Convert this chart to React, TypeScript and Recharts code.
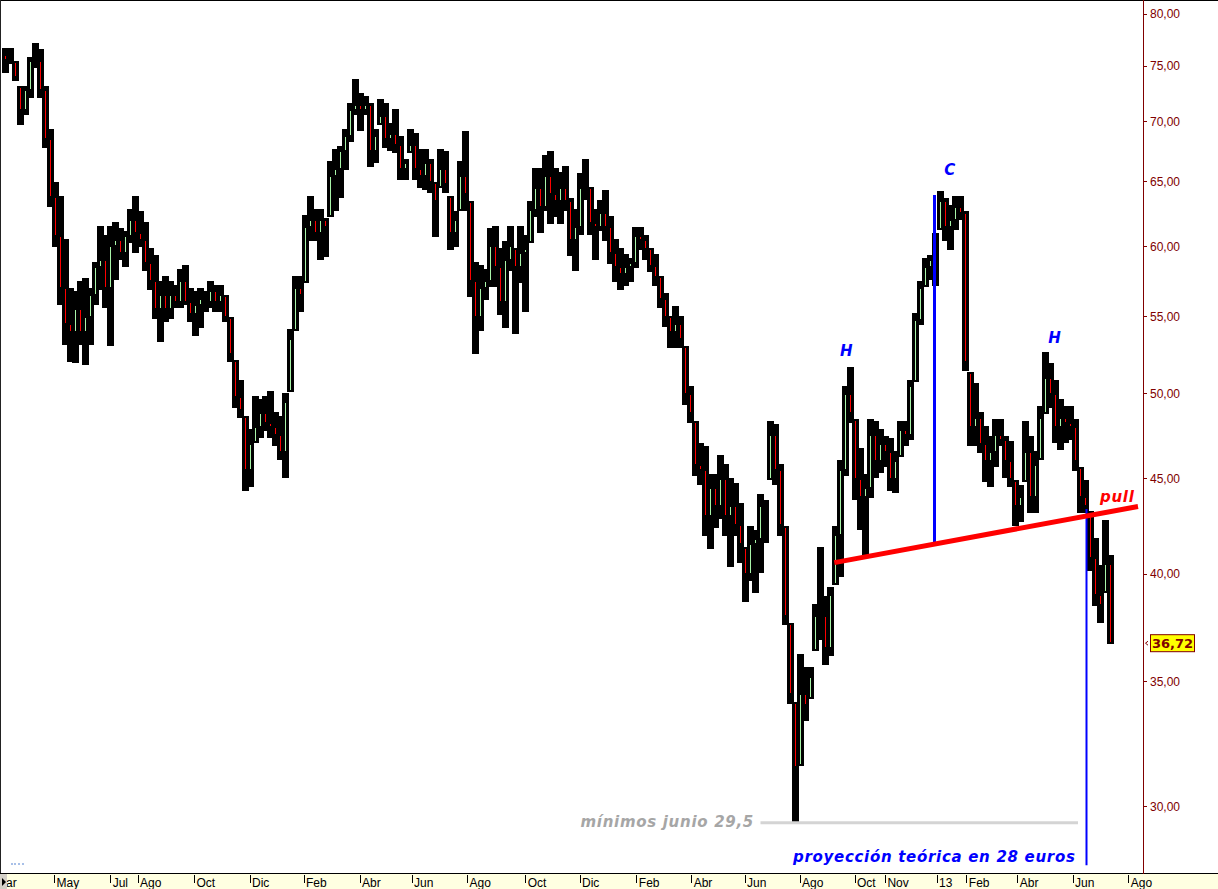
import React from 'react';
import { ComposedChart, Bar, XAxis, YAxis, ReferenceLine, ReferenceDot } from 'recharts';

// ---- price data (one candle per ~4 trading days) ----
const highs = [
  76.6, 76.6, 75.4, 73.1, 73.1, 75.8, 77.1, 76.5, 73.1, 69.3,
  64.9, 63.8, 60.5, 56.9, 56.7, 57.4, 57.6, 56.9, 58.8, 61.5,
  60.8, 61.5, 61.8, 61.3, 61.1, 62.8, 63.8, 62.6, 61.8, 59.8,
  59.3, 57.4, 57.8, 57.4, 57.1, 58.3, 58.6, 56.9, 56.7, 56.9,
  56.7, 57.4, 57.1, 57.1, 56.4, 54.9, 52.1, 50.8, 48.6, 47.8,
  49.8, 49.6, 49.8, 50.1, 48.8, 48.6, 50.0, 54.1, 57.8, 57.8,
  62.3, 63.8, 62.8, 62.8, 62.1, 66.6, 67.6, 67.9, 69.3, 71.6,
  73.7, 72.5, 72.2, 71.6, 69.3, 71.9, 71.6, 69.8, 71.0, 68.7,
  66.8, 69.3, 69.0, 67.6, 67.6, 66.8, 64.9, 67.6, 67.4, 63.8,
  62.6, 66.6, 69.1, 63.4, 58.8, 58.6, 58.3, 61.3, 61.5, 59.8,
  60.3, 61.5, 59.8, 61.5, 60.8, 63.4, 66.0, 66.0, 67.1, 67.4,
  66.0, 65.7, 66.2, 63.6, 62.8, 65.6, 66.8, 64.5, 62.8, 63.5,
  64.3, 62.2, 60.5, 59.8, 59.4, 59.1, 61.4, 61.4, 60.8, 59.8,
  59.4, 57.8, 56.6, 55.0, 55.7, 55.0, 53.0, 50.4, 48.3, 47.0,
  46.8, 45.2, 45.2, 46.3, 45.8, 45.0, 44.7, 43.6, 41.3, 42.4,
  42.2, 44.1, 43.8, 48.3, 48.1, 45.8, 42.4, 37.6, 34.1, 36.2,
  35.6, 35.6, 38.5, 41.3, 38.9, 39.3, 42.4, 46.0, 50.4, 51.6,
  48.4, 46.7, 45.2, 48.4, 48.3, 47.8, 47.4, 47.3, 46.5, 48.3,
  48.3, 50.8, 55.2, 57.4, 59.1, 59.3, 60.9, 64.2, 63.6, 63.1,
  63.8, 63.8, 62.6, 51.3, 50.6, 48.8, 48.0, 47.4, 48.4, 48.4,
  47.4, 47.1, 44.9, 44.6, 48.3, 47.4, 46.5, 49.2, 52.6, 51.9,
  50.8, 49.6, 49.2, 49.2, 48.4, 45.6, 44.9, 43.2, 41.8, 40.4,
  42.7, 40.9,
];
const lows = [
  74.5, 75.3, 73.7, 69.8, 70.7, 72.2, 74.9, 72.2, 67.9, 63.1,
  60.0, 55.9, 53.2, 52.1, 52.0, 53.2, 51.9, 53.2, 55.9, 56.9,
  55.7, 53.1, 57.6, 59.1, 58.6, 60.3, 59.6, 60.0, 58.3, 56.9,
  54.9, 53.4, 54.7, 54.9, 55.7, 55.7, 55.9, 54.7, 53.8, 54.3,
  55.4, 55.7, 55.4, 55.4, 54.7, 52.1, 49.2, 48.6, 44.4, 44.6,
  47.1, 47.4, 47.8, 47.4, 46.9, 46.1, 45.1, 50.2, 54.1, 55.4,
  57.4, 60.5, 60.5, 59.1, 59.3, 62.3, 62.8, 63.8, 66.0, 68.4,
  70.7, 69.3, 70.7, 66.3, 66.6, 69.8, 67.9, 67.6, 67.4, 65.2,
  65.2, 67.4, 65.2, 64.6, 64.4, 64.2, 60.8, 64.6, 64.2, 59.8,
  60.0, 62.8, 62.8, 56.4, 52.6, 54.1, 56.2, 57.1, 57.1, 55.2,
  54.3, 58.3, 53.9, 57.4, 55.4, 60.3, 62.3, 61.1, 62.8, 61.8,
  62.3, 61.8, 62.8, 59.4, 58.3, 60.9, 63.6, 60.9, 59.1, 61.2,
  60.5, 58.8, 57.5, 56.9, 57.2, 57.5, 58.5, 59.8, 59.1, 58.2,
  57.2, 55.7, 54.4, 53.0, 53.0, 53.0, 49.4, 48.3, 45.2, 44.7,
  42.0, 41.3, 42.4, 42.9, 42.0, 40.4, 42.0, 40.6, 38.7, 39.7,
  39.1, 40.1, 41.6, 45.0, 44.7, 42.0, 37.6, 34.1, 29.4, 31.6,
  33.4, 34.3, 36.4, 36.9, 35.8, 36.2, 39.5, 39.9, 45.2, 48.3,
  43.9, 42.3, 41.0, 44.0, 45.1, 45.4, 45.7, 44.4, 44.3, 46.3,
  46.9, 47.3, 50.8, 54.5, 57.1, 57.6, 57.2, 61.3, 60.5, 59.8,
  61.3, 62.1, 51.5, 46.9, 46.9, 46.5, 44.9, 44.6, 45.7, 46.9,
  45.1, 44.6, 42.5, 42.7, 44.9, 43.2, 43.2, 46.1, 48.8, 49.2,
  47.1, 46.7, 47.1, 47.3, 45.5, 43.2, 43.2, 40.2, 38.5, 37.7,
  39.1, 36.72,
];
const closes = [
  75.6, 75.5, 74.0, 71.0, 72.8, 75.5, 75.5, 72.8, 68.5, 63.8,
  60.8, 57.0, 54.5, 54.0, 55.5, 54.0, 55.0, 56.5, 58.5, 59.0,
  57.0, 60.0, 60.5, 59.5, 60.8, 62.0, 61.0, 60.5, 58.8, 57.5,
  55.5, 56.5, 55.5, 56.5, 56.0, 57.5, 56.0, 55.2, 55.8, 56.2,
  56.0, 56.8, 56.0, 56.5, 55.0, 52.5, 49.8, 49.0, 45.5, 47.0,
  48.0, 48.8, 48.2, 48.0, 47.5, 46.5, 49.5, 53.5, 57.0, 56.5,
  61.5, 62.0, 61.0, 62.0, 61.5, 65.5, 66.0, 67.5, 68.8, 71.0,
  71.5, 71.0, 71.5, 67.5, 68.8, 70.5, 68.5, 69.0, 68.0, 66.0,
  66.5, 68.0, 66.0, 65.5, 66.5, 65.0, 63.5, 66.0, 64.8, 61.0,
  62.0, 65.5, 64.0, 57.5, 55.0, 57.0, 57.5, 60.0, 58.5, 56.0,
  59.0, 60.0, 58.5, 59.5, 59.8, 62.8, 64.5, 63.0, 65.5, 64.0,
  63.5, 64.5, 63.5, 60.5, 61.5, 64.5, 64.5, 61.8, 61.5, 62.5,
  61.5, 59.5, 58.5, 58.0, 58.5, 58.8, 60.8, 60.5, 59.8, 58.6,
  57.8, 56.2, 55.0, 54.0, 54.5, 53.5, 50.0, 48.8, 45.8, 45.5,
  43.0, 44.5, 43.5, 45.0, 43.0, 43.5, 42.5, 41.5, 40.0, 41.5,
  41.8, 43.5, 43.5, 47.5, 45.5, 42.5, 38.0, 34.5, 31.5, 34.5,
  34.0, 35.2, 38.0, 38.0, 36.5, 39.0, 42.0, 45.5, 50.0, 48.8,
  45.0, 44.0, 44.5, 47.5, 46.0, 47.0, 46.5, 45.0, 46.0, 47.8,
  47.5, 50.5, 54.8, 57.0, 58.5, 59.0, 60.5, 63.5, 61.5, 62.0,
  63.0, 62.5, 52.0, 48.0, 48.5, 47.0, 46.0, 46.5, 47.5, 47.2,
  46.0, 45.0, 43.5, 44.0, 46.5, 44.0, 45.8, 48.5, 51.0, 50.0,
  48.0, 48.5, 48.2, 48.0, 46.0, 44.0, 43.5, 40.8, 39.0, 38.5,
  40.5, 36.72,
];
const firstOpen = 76.0;
const lastPrice = 36.72;

// ---- axes ----
const monthTicks = [
  -0.6, 9.9, 21.14, 26.6, 37.9, 49.0, 59.8, 71.0, 81.4, 92.52, 104.14, 115.0,
  126.36, 137.34, 148.0, 159.0, 170.0, 176.08, 186.4, 192.36, 202.56, 213.6, 224.76,
];
const monthLabels = [
  'Mar', 'May', 'Jul', 'Ago', 'Oct', 'Dic', 'Feb', 'Abr', 'Jun', 'Ago', 'Oct', 'Dic',
  'Feb', 'Abr', 'Jun', 'Ago', 'Oct', 'Nov', '13', 'Feb', 'Abr', 'Jun', 'Ago',
];
const priceTicks = [30, 35, 40, 45, 50, 55, 60, 65, 70, 75, 80];
const xDomain = [-0.6, 227.6];
const yDomain = [27.63, 81.4];

// ---- annotations (data coordinates) ----
const neckline = [{ x: 165.86, y: 40.57 }, { x: 226.6, y: 43.49 }];
const headLine = [{ x: 185.9, y: 63.95 }, { x: 185.9, y: 41.59 }];
const projLine = [{ x: 216.3, y: 43.35 }, { x: 216.3, y: 27.9 }];
const minLine = [{ x: 151.1, y: 29.4 }, { x: 214.6, y: 29.4 }];
const notes = [
  { x: 168.34, y: 52.39, text: 'H', color: '#0000ff', anchor: 'middle' },
  { x: 189.0, y: 65.51, text: 'C', color: '#0000ff', anchor: 'middle' },
  { x: 210.0, y: 53.24, text: 'H', color: '#0000ff', anchor: 'middle' },
  { x: 219.0, y: 43.73, text: 'pull', color: '#ff0000', anchor: 'start' },
  { x: 115.1, y: 29.25, text: 'mínimos junio 29,5', color: '#a6a6a6', anchor: 'start' },
  { x: 157.6, y: 28.01, text: 'proyección teórica en 28 euros', color: '#0000ff', anchor: 'start' },
];

const data = highs.map((h, i) => {
  const prev = i === 0 ? firstOpen : closes[i - 1];
  const open = Math.min(h, Math.max(lows[i], prev));
  return { i, range: [lows[i], h], high: h, low: lows[i], open, close: closes[i] };
});

const fmt = (v: number) => v.toFixed(2).replace('.', ',');

const Candle = (props: any) => {
  const { x, y, width, height, payload } = props;
  if (x == null || y == null || !payload) return null;
  const top = Math.min(y, y + height);
  const h = Math.abs(height);
  const cx = Math.round(x + width / 2);
  const lh = Math.log(payload.high);
  const ll = Math.log(payload.low);
  const span = lh - ll || 1;
  const py = (v: number) => top + (h * (lh - Math.log(v))) / span;
  const a = py(payload.open);
  const b = py(payload.close);
  const bt = Math.min(a, b) + 1;
  const bb = Math.max(a, b) - 1;
  const color = payload.close < payload.open ? '#ff0000' : '#a8f5a8';
  return (
    <g>
      <rect x={cx - 3} y={top - 1} width={7} height={Math.max(2, h + 2)} fill="#000" shapeRendering="crispEdges" />
      {bb - bt > 1 && (
        <rect x={cx} y={bt} width={1} height={bb - bt} fill={color} shapeRendering="crispEdges" />
      )}
    </g>
  );
};

const XTick = (props: any) => {
  const { x, y, payload, index } = props;
  const idx = typeof index === 'number' ? index : monthTicks.indexOf(payload.value);
  const label = monthLabels[idx] ?? '';
  const first = idx === 0;
  return (
    <g>
      {!first && <line x1={x} y1={y + 2} x2={x} y2={y + 10} stroke="#000" strokeWidth={1} shapeRendering="crispEdges" />}
      <text
        x={first ? x - 6 : x + 2}
        y={y + 14}
        fill="#000"
        fontSize={12}
        fontFamily="'Liberation Sans', Arial, sans-serif"
      >
        {label}
      </text>
    </g>
  );
};

const PriceTag = (props: any) => {
  const vb = props.viewBox || {};
  const right = (vb.x ?? 0) + (vb.width ?? 0);
  const cy = vb.y ?? 0;
  return (
    <g>
      <polyline
        points={`${right + 5},${cy - 2} ${right + 2.5},${cy} ${right + 5},${cy + 2}`}
        fill="none"
        stroke="#800000"
        strokeWidth={1}
      />
      <rect x={right + 7.5} y={cy - 8.5} width={44} height={17} fill="#ffff00" stroke="#800000" strokeWidth={1} />
      <text
        x={right + 29.5}
        y={cy + 5}
        textAnchor="middle"
        fill="#800000"
        fontSize={13}
        fontWeight="bold"
        fontFamily="'DejaVu Sans', Verdana, sans-serif"
      >
        {fmt(lastPrice)}
      </text>
    </g>
  );
};

export default function App() {
  return (
    <div style={{ position: 'absolute', left: 0, top: 0, width: 1218, height: 889, overflow: 'hidden', background: '#fff' }}>
      <div style={{ position: 'absolute', left: 0, top: 873, width: 1218, height: 16, background: '#ffffe1', borderTop: '1px solid #000' }} />
      <div style={{ position: 'absolute', left: 0, top: 0, width: 1218, height: 1, background: '#000' }} />
      <div style={{ position: 'absolute', left: 0, top: 0, width: 1, height: 873, background: '#222' }} />
      <div style={{ position: 'absolute', left: 1143, top: 0, width: 1, height: 874, background: '#800000' }} />
      <div style={{ position: 'absolute', left: 11, top: 863, width: 13, height: 0, borderTop: '2px dotted #a8c0e8' }} />
      <div style={{ position: 'absolute', left: 0, top: 0 }}>
        <ComposedChart
          width={1218}
          height={889}
          data={data}
          margin={{ top: 0, right: 0, bottom: 0, left: 2 }}
        >
          <XAxis
            type="number"
            dataKey="i"
            domain={xDomain}
            allowDataOverflow
            ticks={monthTicks}
            interval={0}
            height={16}
            tickSize={0}
            tickMargin={0}
            tickLine={false}
            axisLine={false}
            tick={(p: any) => <XTick {...p} />}
          />
          <YAxis
            orientation="right"
            scale="log"
            domain={yDomain}
            allowDataOverflow
            ticks={priceTicks}
            interval={0}
            width={75}
            tickSize={4}
            tickMargin={3}
            tickFormatter={fmt}
            axisLine={false}
            tickLine={{ stroke: '#800000', shapeRendering: 'crispEdges' }}
            tick={{ fill: '#800000', fontSize: 12, fontFamily: "'Liberation Sans', Arial, sans-serif" }}
          />
          <Bar dataKey="range" barSize={5} shape={(p: any) => <Candle {...p} />} isAnimationActive={false} />
          <ReferenceLine segment={minLine} stroke="#d4d4d4" strokeWidth={3} />
          <ReferenceLine segment={headLine} stroke="#0000ff" strokeWidth={3} />
          <ReferenceLine segment={projLine} stroke="#0000ff" strokeWidth={2} />
          <ReferenceLine segment={neckline} stroke="#ff0000" strokeWidth={5} />
          <ReferenceLine y={lastPrice} stroke="none" strokeWidth={0} label={(p: any) => <PriceTag {...p} />} />
          {notes.map((n, k) => (
            <ReferenceDot
              key={k}
              x={n.x}
              y={n.y}
              r={0}
              shape={(p: any) => (
                <text
                  x={p.cx}
                  y={p.cy}
                  textAnchor={n.anchor as any}
                  fill={n.color}
                  fontSize={15}
                  fontWeight="bold"
                  fontStyle="italic"
                  letterSpacing={0.7}
                  fontFamily="'DejaVu Sans', Verdana, sans-serif"
                >
                  {n.text}
                </text>
              )}
            />
          ))}
        </ComposedChart>
      </div>
      <div style={{ position: 'absolute', left: 0, top: 874, width: 7, height: 15, background: '#d4d0c8' }}>
        <div style={{ position: 'absolute', left: 2, top: 4, width: 0, height: 0, borderTop: '4px solid transparent', borderBottom: '4px solid transparent', borderLeft: '4px solid #000' }} />
      </div>
    </div>
  );
}
